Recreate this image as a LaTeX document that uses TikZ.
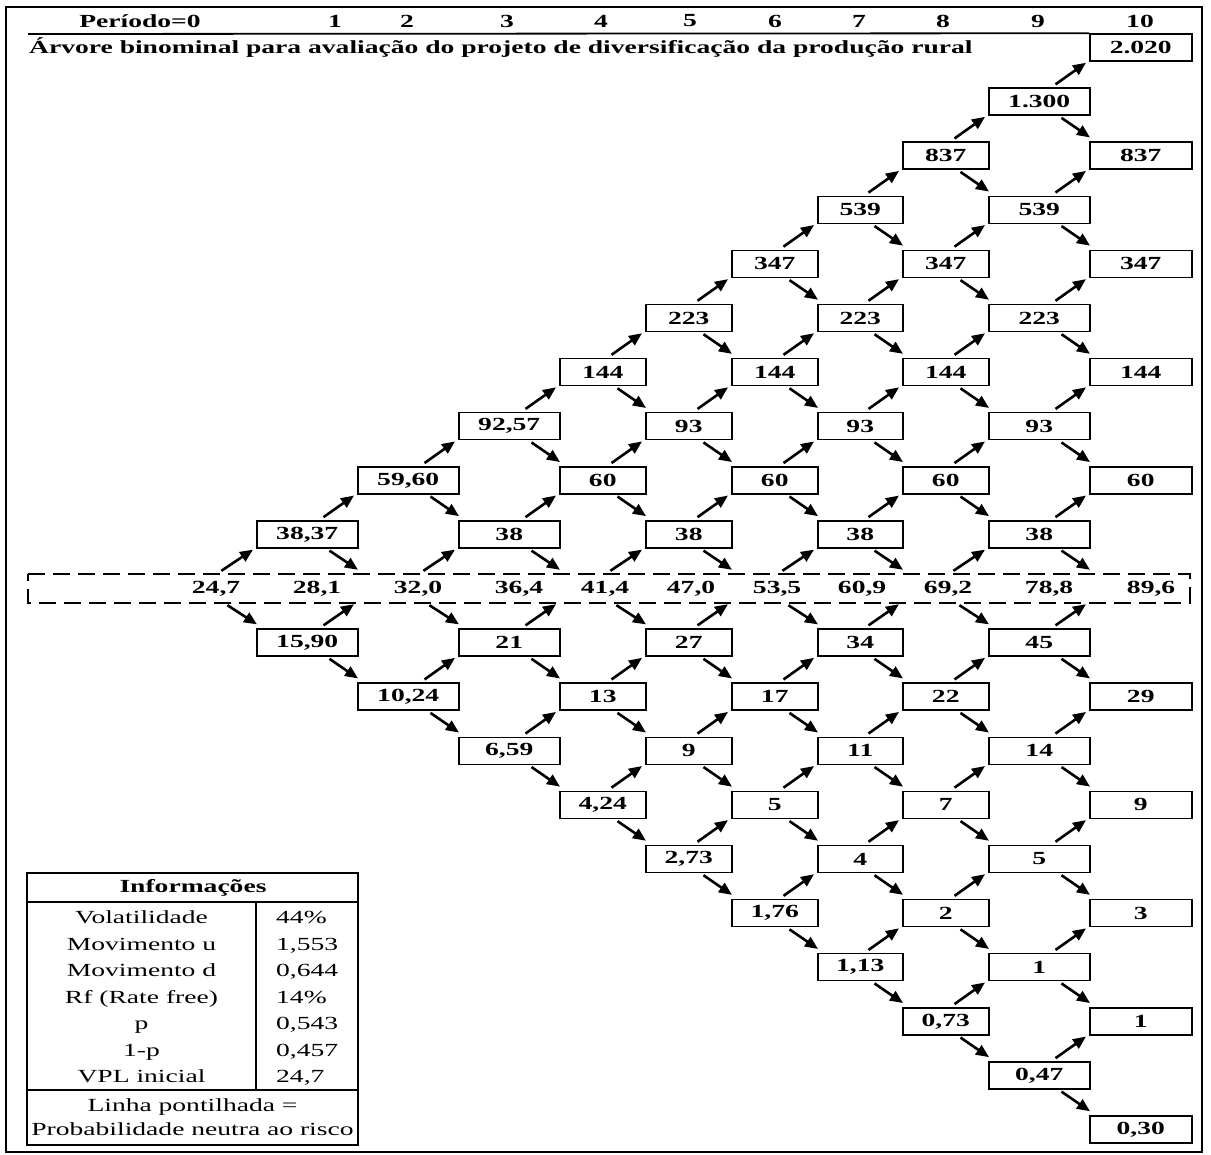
\documentclass[tikz,border=0pt]{standalone}
\usepackage{fontspec}
\setmainfont{Liberation Serif}[FakeStretch=1.49]
\usetikzlibrary{arrows.meta}
\newcommand\bigtxt{\fontsize{18.5}{21}\selectfont}
\newcommand\infotxt{\fontsize{18.5}{21}\selectfont}
\begin{document}
\begin{tikzpicture}[x=1pt,y=-1pt,
  box/.style={draw, line width=1.5pt, minimum height=27pt, inner sep=0pt, font=\bfseries\bigtxt},
  midcell/.style={minimum height=29pt, inner ysep=0pt, inner xsep=16pt, align=right, font=\bfseries\bigtxt},
  arr/.style={line width=2.6pt, -{Triangle[length=13pt,width=11pt]}},
  head/.style={font=\bfseries\bigtxt, inner sep=0pt},
  info/.style={font=\infotxt, inner sep=0pt, anchor=base},
  infoval/.style={font=\infotxt, inner sep=0pt, anchor=base west}]
\useasboundingbox (0,0) rectangle (1211,1155);
\fill[white] (0,0) rectangle (1211,1155);
% outer frame
\draw[line width=2pt] (6,7) rectangle (1202,1152);
% header
\node[head] (h0) at (140,21) {Período=0};
\foreach \x/\n in {335/1,407/2,507/3,601/4,690/5,775/6,859/7,943/8,1038/9,1140/10}{
  \node[head] (h\n) at (\x,21) {\n};
}
% tree boxes
\foreach \t/\r/\v in {
  1/1/{38,37}, 1/-1/{15,90},
  2/2/{59,60}, 2/-2/{10,24},
  3/3/{92,57}, 3/1/38, 3/-1/21, 3/-3/{6,59},
  4/4/144, 4/2/60, 4/-2/13, 4/-4/{4,24},
  5/5/223, 5/3/93, 5/1/38, 5/-1/27, 5/-3/9, 5/-5/{2,73},
  6/6/347, 6/4/144, 6/2/60, 6/-2/17, 6/-4/5, 6/-6/{1,76},
  7/7/539, 7/5/223, 7/3/93, 7/1/38, 7/-1/34, 7/-3/11, 7/-5/4, 7/-7/{1,13},
  8/8/837, 8/6/347, 8/4/144, 8/2/60, 8/-2/22, 8/-4/7, 8/-6/2, 8/-8/{0,73},
  9/9/1.300, 9/7/539, 9/5/223, 9/3/93, 9/1/38, 9/-1/45, 9/-3/14, 9/-5/5, 9/-7/1, 9/-9/{0,47},
  10/10/2.020, 10/8/837, 10/6/347, 10/4/144, 10/2/60, 10/-2/29, 10/-4/9, 10/-6/3, 10/-8/1, 10/-10/{0,30}}{
  \pgfmathsetmacro\L{{156,256,357,458,559,645,731,817,902,988,1089}[\t]}
  \pgfmathsetmacro\W{{100,101,101,101,86,86,86,85,86,101,102}[\t]}
  \pgfmathsetmacro\Y{588.5-54.1*\r}
  \node[box, minimum width=\W pt, anchor=west] (n-\t-\r) at (\L,\Y) {\v};
}
% middle (risk neutral) row
\foreach \t/\v in {0/{24,7},1/{28,1},2/{32,0},3/{36,4},4/{41,4},5/{47,0},6/{53,5},7/{60,9},8/{69,2},9/{78,8},10/{89,6}}{
  \pgfmathsetmacro\L{{156,256,357,458,559,645,731,817,902,988,1089}[\t]}
  \pgfmathsetmacro\W{{100,101,101,101,86,86,86,85,86,101,102}[\t]}
  \pgfmathsetmacro\TW{\W-32}
  \node[midcell, text width=\TW pt, anchor=west] (n-\t-0) at (\L,588.5) {\v};
}
\draw[line width=2.8pt, dash pattern=on 17pt off 8pt] (28,574) -- (1190,574) -- (1190,603) -- (28,603) -- cycle;
% header rule and title
\draw[line width=1.8pt] (28,34) -- (n-10-10.north west);
\node[head, anchor=west] (title) at (29,47.5) {Árvore binominal para avaliação do projeto de diversificação da produção rural};
% arrows
\foreach \t in {0,...,9}{
  \foreach \j in {0,...,\t}{
    \pgfmathtruncatemacro\r{2*\j-\t}
    \pgfmathtruncatemacro\tn{\t+1}
    \pgfmathtruncatemacro\ru{\r+1}
    \pgfmathtruncatemacro\rd{\r-1}
    \draw[arr] ([xshift=-35pt,yshift=3pt]n-\t-\r.north east) -- ([xshift=-3pt,yshift=-1pt]n-\tn-\ru.south west);
    \draw[arr] ([xshift=-29pt,yshift=-2pt]n-\t-\r.south east) -- ([xshift=1pt,yshift=4pt]n-\tn-\rd.north west);
  }
}
% information table
\draw[line width=2.6pt] (27,873) rectangle (358,1145);
\draw[line width=1.2pt] (27,902) -- (358,902);
\draw[line width=1.2pt] (27,1090) -- (358,1090);
\draw[line width=1.2pt] (256,902) -- (256,1090);
\node[head] (infotitle) at (193,888) {Informações};
\foreach \k/\a/\b in {0/Volatilidade/44\%, 1/Movimento u/{1,553}, 2/Movimento d/{0,644}, 3/Rf (Rate free)/14\%, 4/p/{0,543}, 5/1-p/{0,457}, 6/VPL inicial/{24,7}}{
  \pgfmathsetmacro\Y{923.5+26.5*\k}
  \node[info] (ia\k) at (141.5,\Y) {\a};
  \node[infoval] (ib\k) at (276,\Y) {\b};
}
\node[info] (note1) at (192.5,1111) {Linha pontilhada =};
\node[info] (note2) at (192.5,1135) {Probabilidade neutra ao risco};
\end{tikzpicture}
\end{document}
